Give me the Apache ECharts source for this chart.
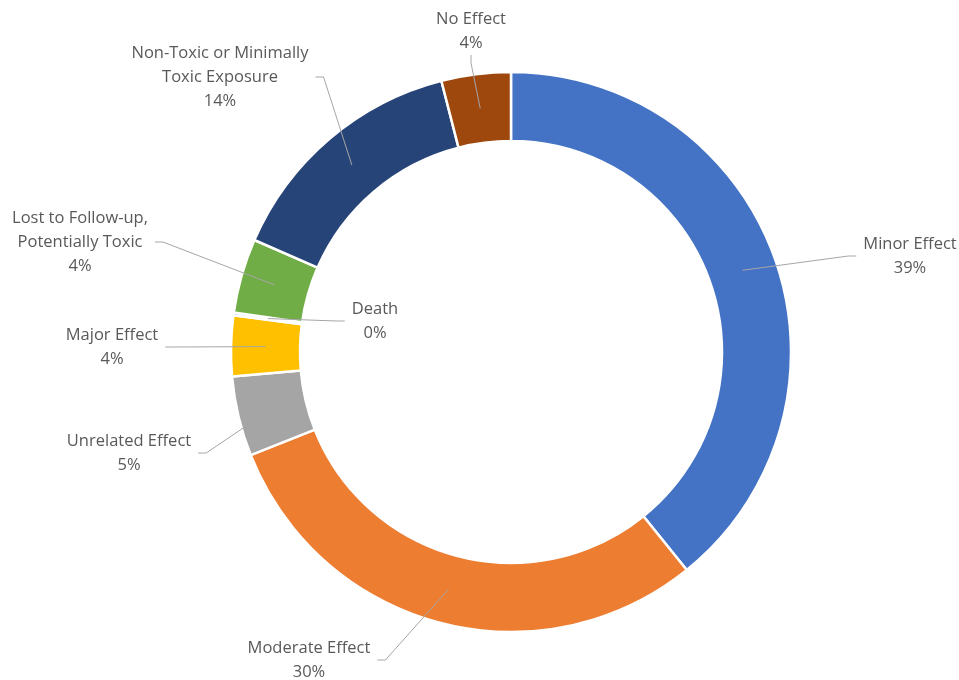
<!DOCTYPE html>
<html>
<head>
<meta charset="utf-8">
<script src="https://cdn.jsdelivr.net/npm/echarts@6/dist/echarts.min.js"></script>
<style>
  html, body { margin: 0; padding: 0; background: #ffffff; }
  #chart { width: 959px; height: 680px; }
</style>
</head>
<body>
<div id="chart"></div>
<script>
// ---- data ----
const categories = [
  'Minor Effect',
  'Moderate Effect',
  'Unrelated Effect',
  'Major Effect',
  'Death',
  'Lost to Follow-up,\nPotentially Toxic',
  'Non-Toxic or Minimally\nToxic Exposure',
  'No Effect'
];
const shares = [39.2, 29.8, 4.6, 3.5, 0.15, 4.3, 14.45, 4.0];
const colors = ['#4472C4', '#ED7D31', '#A5A5A5', '#FFC000', '#5B9BD5', '#70AD47', '#264478', '#9E480E'];

// ---- label placement (layout, centres of the label blocks) ----
const labelCenters = [
  [910, 256], [309, 660], [129, 453], [112, 347],
  [375, 321], [80, 242], [220, 77], [471, 31]
];

const seriesData = categories.map((name, i) => ({
  name: name,
  value: shares[i],
  itemStyle: { color: colors[i] }
}));

const chart = echarts.init(document.getElementById('chart'), null, { renderer: 'canvas' });
const CENTER = [511, 352];

chart.setOption({
  backgroundColor: '#ffffff',
  animation: false,
  series: [
    {
      type: 'pie',
      center: CENTER,
      radius: [211, 280],
      startAngle: 90,
      clockwise: true,
      silent: true,
      avoidLabelOverlap: false,
      itemStyle: { borderColor: '#ffffff', borderWidth: 2.5 },
      label: { show: false },
      labelLine: { show: false },
      emphasis: { disabled: true },
      data: seriesData
    },
    {
      type: 'pie',
      center: CENTER,
      radius: [244.5, 245.5],
      startAngle: 90,
      clockwise: true,
      silent: true,
      z: 5,
      itemStyle: { color: 'rgba(0,0,0,0)', borderWidth: 0 },
      emphasis: { disabled: true },
      label: {
        show: true,
        position: 'outside',
        color: '#595959',
        fontFamily: '"Open Sans", "Liberation Sans", sans-serif',
        fontSize: 16.5,
        lineHeight: 24,
        align: 'center',
        padding: [0, 7],
        formatter: p => p.name + '\n' + Math.round(p.percent) + '%'
      },
      labelLine: {
        show: true,
        length: 10,
        length2: 8,
        minTurnAngle: 0,
        smooth: false,
        lineStyle: { color: '#A6A6A6', width: 1 }
      },
      labelLayout: params => ({
        x: labelCenters[params.dataIndex][0],
        y: labelCenters[params.dataIndex][1],
        align: 'center',
        verticalAlign: 'middle'
      }),
      data: seriesData.map(d => ({ name: d.name, value: d.value }))
    }
  ]
});
</script>
</body>
</html>
